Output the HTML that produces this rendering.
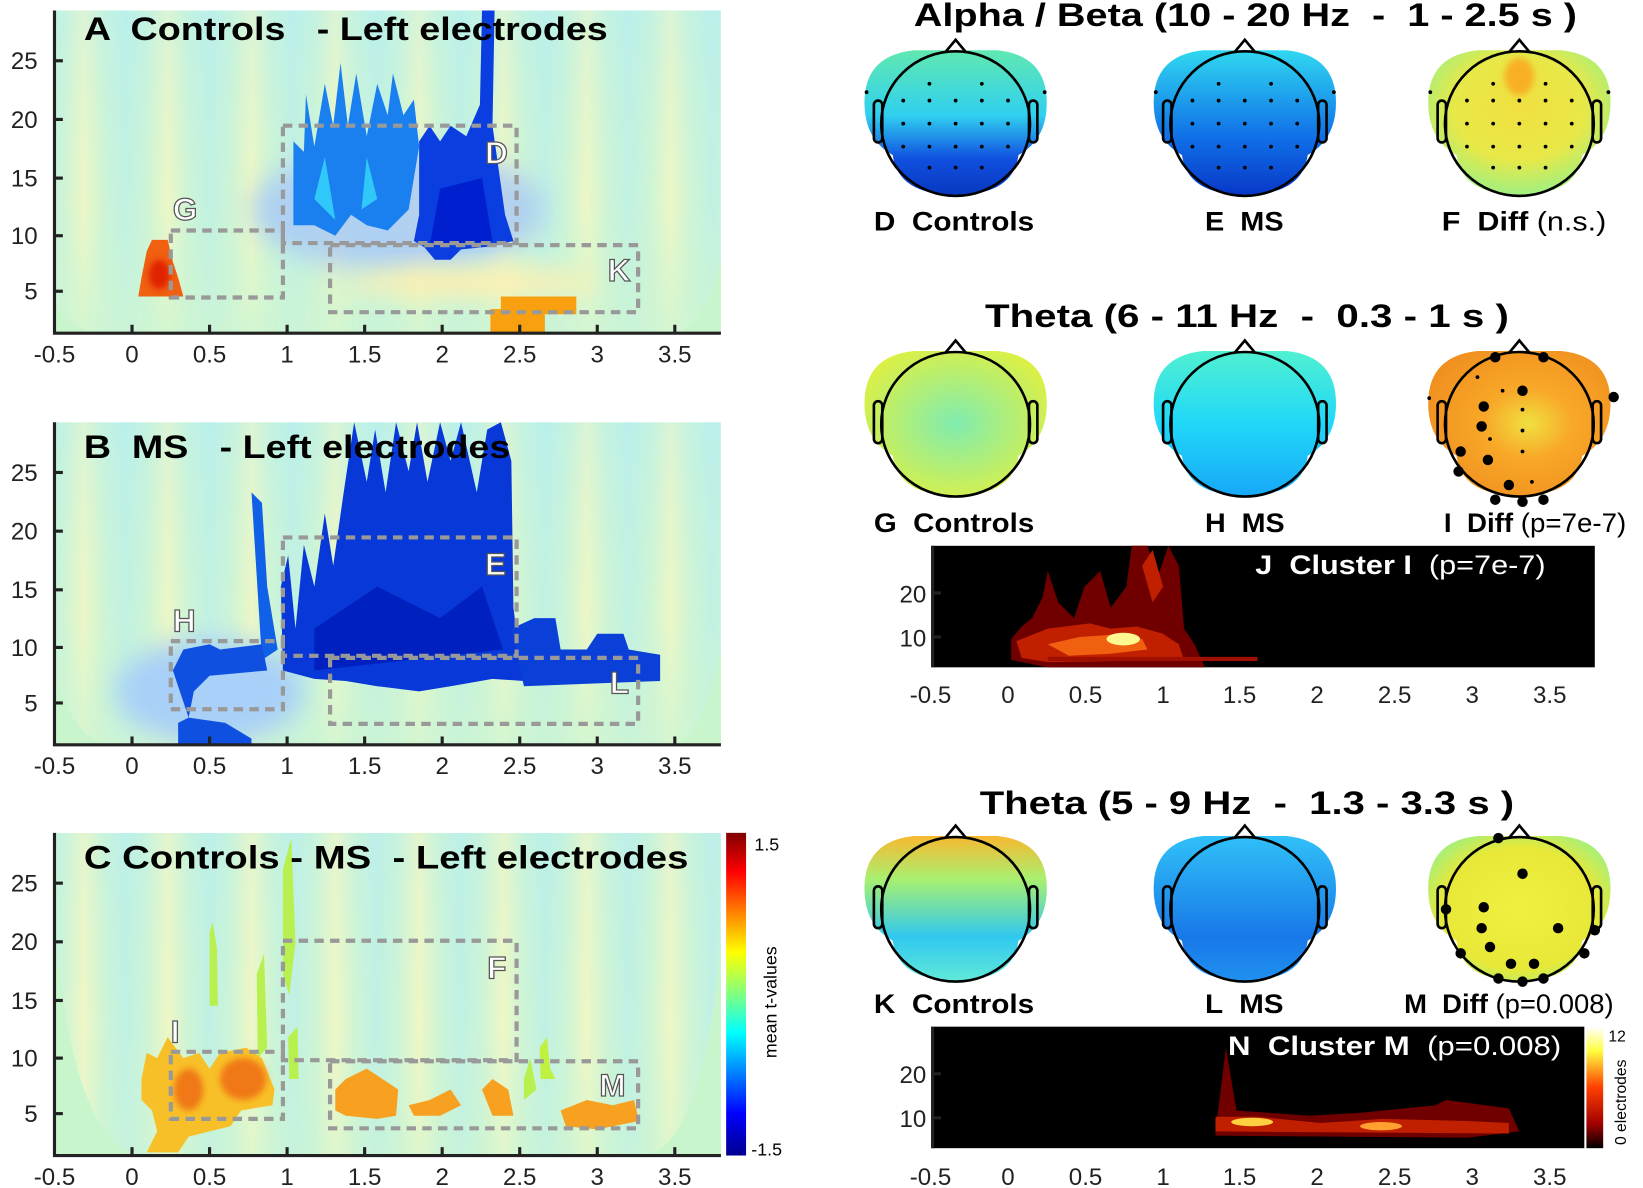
<!DOCTYPE html>
<html><head><meta charset="utf-8"><style>
html,body{margin:0;padding:0;background:#fff}
svg{display:block}
text{font-family:"Liberation Sans",sans-serif;white-space:pre}
.t{font-weight:bold;font-size:31px}
.tk{font-size:23px;fill:#222}
.lab{font-weight:bold;font-size:26px}
.big{font-weight:bold;font-size:30px;fill:#fff;stroke:#555;stroke-width:1.2}
.box{fill:none;stroke:#999;stroke-width:4;stroke-dasharray:9 6}
</style></head><body>
<svg width="1643" height="1188" viewBox="0 0 1568 1134" preserveAspectRatio="none" xmlns="http://www.w3.org/2000/svg">
<defs>
<linearGradient id="stripes" x1="0" x2="40" y1="0" y2="0" gradientUnits="userSpaceOnUse" spreadMethod="reflect">
<stop offset="0" stop-color="#f2f7c4"/><stop offset="0.5" stop-color="#cdf4d6"/><stop offset="1" stop-color="#bff0e6"/></linearGradient>
<linearGradient id="fade" x1="0" x2="0" y1="0" y2="1">
<stop offset="0" stop-color="#b0eef5" stop-opacity="0.35"/><stop offset="0.6" stop-color="#cdf5d3" stop-opacity="0.15"/><stop offset="1" stop-color="#cdf5d3" stop-opacity="0.8"/></linearGradient>
<linearGradient id="jet" x1="0" x2="0" y1="0" y2="1">
<stop offset="0" stop-color="#800000"/><stop offset="0.12" stop-color="#ff0000"/><stop offset="0.37" stop-color="#ffff00"/><stop offset="0.5" stop-color="#80ff80"/><stop offset="0.62" stop-color="#00ffff"/><stop offset="0.87" stop-color="#0000ff"/><stop offset="1" stop-color="#00008f"/></linearGradient>
<linearGradient id="hot" x1="0" x2="0" y1="0" y2="1">
<stop offset="0" stop-color="#ffffff"/><stop offset="0.2" stop-color="#ffff40"/><stop offset="0.5" stop-color="#ff4000"/><stop offset="0.8" stop-color="#a00000"/><stop offset="1" stop-color="#000"/></linearGradient>
<filter id="bl" x="-50%" y="-50%" width="200%" height="200%"><feGaussianBlur stdDeviation="12"/></filter>
<filter id="bl2" x="-50%" y="-50%" width="200%" height="200%"><feGaussianBlur stdDeviation="3"/></filter>
<linearGradient id="gD" x1="0" x2="0" y1="0" y2="1"><stop offset="0" stop-color="#60e8b0"/><stop offset="0.45" stop-color="#30d0f0"/><stop offset="0.75" stop-color="#1050e0"/><stop offset="1" stop-color="#0838c0"/></linearGradient>
<linearGradient id="gE" x1="0" x2="0" y1="0" y2="1"><stop offset="0" stop-color="#30d8f0"/><stop offset="0.6" stop-color="#1070e8"/><stop offset="1" stop-color="#0838c8"/></linearGradient>
<radialGradient id="gF" cx="0.5" cy="0.4" r="0.6"><stop offset="0" stop-color="#f0e040"/><stop offset="0.6" stop-color="#e8e848"/><stop offset="1" stop-color="#a0f080"/></radialGradient>
<radialGradient id="gG" cx="0.5" cy="0.5" r="0.6"><stop offset="0" stop-color="#80ecb0"/><stop offset="1" stop-color="#e0f040"/></radialGradient>
<linearGradient id="gH" x1="0" x2="0" y1="0" y2="1"><stop offset="0" stop-color="#50f0d0"/><stop offset="0.5" stop-color="#20d8f8"/><stop offset="1" stop-color="#18a8f8"/></linearGradient>
<radialGradient id="gI" cx="0.55" cy="0.5" r="0.6"><stop offset="0" stop-color="#f0e040"/><stop offset="0.4" stop-color="#f8a828"/><stop offset="1" stop-color="#f09020"/></radialGradient>
<linearGradient id="gK" x1="0" x2="0" y1="0" y2="1"><stop offset="0" stop-color="#f8b830"/><stop offset="0.3" stop-color="#a8f070"/><stop offset="0.7" stop-color="#30c8f0"/><stop offset="1" stop-color="#60e8d8"/></linearGradient>
<linearGradient id="gL" x1="0" x2="0" y1="0" y2="1"><stop offset="0" stop-color="#30c0f8"/><stop offset="0.7" stop-color="#1878e8"/><stop offset="1" stop-color="#2090f0"/></linearGradient>
<radialGradient id="gM" cx="0.5" cy="0.5" r="0.6"><stop offset="0" stop-color="#f0f040"/><stop offset="0.7" stop-color="#e8e838"/><stop offset="1" stop-color="#a0f080"/></radialGradient>
<clipPath id="cA"><rect x="52" y="10" width="636" height="308"/></clipPath>
<clipPath id="cB"><rect x="52" y="403" width="636" height="308"/></clipPath>
<clipPath id="cC"><rect x="52" y="795" width="636" height="308"/></clipPath>
</defs>

<!-- ============ Panel A ============ -->
<g clip-path="url(#cA)">
<rect x="52" y="10" width="636" height="308" fill="url(#stripes)"/>
<rect x="52" y="10" width="636" height="308" fill="url(#fade)"/>
<ellipse cx="380" cy="200" rx="140" ry="60" fill="#a8c8f8" filter="url(#bl)" opacity="0.8"/>
<ellipse cx="450" cy="270" rx="120" ry="14" fill="#fff0b0" filter="url(#bl)"/>
<path d="M280,215 L280,135 L290,145 L292,90 L300,140 L310,80 L318,120 L325,60 L332,120 L340,70 L350,130 L360,80 L370,110 L375,70 L385,110 L395,95 L400,140 L390,200 L370,220 L350,215 L335,205 L320,225 L300,215 Z" fill="#1a80f0"/>
<path d="M300,190 L310,150 L320,210 Z M350,150 L360,190 L345,200Z" fill="#30c8f8"/>
<path d="M400,135 L410,120 L420,135 L430,120 L445,130 L458,100 L460,10 L472,10 L470,120 L482,205 L490,230 L470,235 L440,238 L430,248 L415,248 L405,236 L395,230 L400,205 Z" fill="#0a3ee0"/>
<path d="M420,180 L460,170 L470,230 L410,235 Z" fill="#0020d0"/>
<path d="M132,283 L135,265 L140,240 L145,229 L160,229 L165,250 L170,265 L175,283 Z" fill="#f06010"/>
<ellipse cx="152" cy="262" rx="10" ry="14" fill="#e02000" filter="url(#bl2)"/>
<path d="M468,295 L478,295 L478,283 L550,283 L550,300 L520,300 L520,318 L468,318 Z" fill="#f8a010"/>
<path d="M52,290 Q70,318 100,318 L52,318 Z M688,250 Q670,318 640,318 L688,318Z" fill="#c8f5cc"/>
</g>
<path d="M52,10 V318 H688" fill="none" stroke="#222" stroke-width="3"/>
<g stroke="#222" stroke-width="3">
<line x1="52" y1="58" x2="60" y2="58"/><line x1="52" y1="114" x2="60" y2="114"/><line x1="52" y1="170" x2="60" y2="170"/><line x1="52" y1="225" x2="60" y2="225"/><line x1="52" y1="278" x2="60" y2="278"/>
<line x1="126" y1="318" x2="126" y2="310"/><line x1="200" y1="318" x2="200" y2="310"/><line x1="274" y1="318" x2="274" y2="310"/><line x1="348" y1="318" x2="348" y2="310"/><line x1="422" y1="318" x2="422" y2="310"/><line x1="496" y1="318" x2="496" y2="310"/><line x1="570" y1="318" x2="570" y2="310"/><line x1="644" y1="318" x2="644" y2="310"/>
</g>
<g class="tk" text-anchor="end"><text x="36" y="66">25</text><text x="36" y="122">20</text><text x="36" y="178">15</text><text x="36" y="233">10</text><text x="36" y="286">5</text></g>
<g class="tk" text-anchor="middle"><text x="52" y="346">-0.5</text><text x="126" y="346">0</text><text x="200" y="346">0.5</text><text x="274" y="346">1</text><text x="348" y="346">1.5</text><text x="422" y="346">2</text><text x="496" y="346">2.5</text><text x="570" y="346">3</text><text x="644" y="346">3.5</text></g>
<rect class="box" x="163" y="220" width="107" height="64"/>
<rect class="box" x="270" y="120" width="223" height="112"/>
<rect class="box" x="315" y="234" width="294" height="64"/>
<text class="t" x="80" y="38" textLength="500" lengthAdjust="spacingAndGlyphs">A  Controls   - Left electrodes</text>
<text class="big" x="165" y="210">G</text><text class="big" x="463" y="156">D</text><text class="big" x="580" y="268">K</text>

<!-- ============ Panel B ============ -->
<g clip-path="url(#cB)">
<rect x="52" y="403" width="636" height="308" fill="url(#stripes)"/>
<rect x="52" y="403" width="636" height="308" fill="url(#fade)"/>
<ellipse cx="200" cy="660" rx="90" ry="50" fill="#a8d0f8" filter="url(#bl)"/>
<path d="M270,640 L268,560 L275,530 L282,600 L290,520 L300,560 L310,490 L318,540 L328,470 L338,403 L350,460 L358,410 L368,470 L378,403 L390,450 L398,403 L408,460 L420,403 L430,440 L440,403 L455,470 L465,410 L478,403 L488,440 L490,580 L495,620 L500,650 L470,648 L430,655 L400,660 L360,655 L330,650 L300,648 Z" fill="#0838d8"/>
<path d="M240,470 L250,480 L255,560 L265,620 L250,630 Z" fill="#1060e8"/>
<path d="M300,600 L360,560 L420,590 L460,560 L480,620 L300,640Z" fill="#0020c0"/>
<path d="M488,600 L510,590 L530,590 L535,620 L560,620 L570,605 L595,605 L600,620 L630,625 L630,650 L500,655 Z" fill="#0a40d8"/>
<path d="M165,640 L175,620 L200,615 L210,620 L250,615 L255,640 L200,645 L185,660 L180,685 L215,690 L240,705 L240,711 L170,711 L170,690 L180,685 Z" fill="#1050e0"/>
<path d="M52,640 Q70,711 110,711 L52,711 Z M688,620 Q670,711 640,711 L688,711Z" fill="#c8f5cc"/>
</g>
<path d="M52,403 V711 H688" fill="none" stroke="#222" stroke-width="3"/>
<g stroke="#222" stroke-width="3">
<line x1="52" y1="451" x2="60" y2="451"/><line x1="52" y1="507" x2="60" y2="507"/><line x1="52" y1="563" x2="60" y2="563"/><line x1="52" y1="618" x2="60" y2="618"/><line x1="52" y1="671" x2="60" y2="671"/>
<line x1="126" y1="711" x2="126" y2="703"/><line x1="200" y1="711" x2="200" y2="703"/><line x1="274" y1="711" x2="274" y2="703"/><line x1="348" y1="711" x2="348" y2="703"/><line x1="422" y1="711" x2="422" y2="703"/><line x1="496" y1="711" x2="496" y2="703"/><line x1="570" y1="711" x2="570" y2="703"/><line x1="644" y1="711" x2="644" y2="703"/>
</g>
<g class="tk" text-anchor="end"><text x="36" y="459">25</text><text x="36" y="515">20</text><text x="36" y="571">15</text><text x="36" y="626">10</text><text x="36" y="679">5</text></g>
<g class="tk" text-anchor="middle"><text x="52" y="739">-0.5</text><text x="126" y="739">0</text><text x="200" y="739">0.5</text><text x="274" y="739">1</text><text x="348" y="739">1.5</text><text x="422" y="739">2</text><text x="496" y="739">2.5</text><text x="570" y="739">3</text><text x="644" y="739">3.5</text></g>
<rect class="box" x="163" y="612" width="107" height="65"/>
<rect class="box" x="270" y="513" width="223" height="113"/>
<rect class="box" x="315" y="628" width="294" height="63"/>
<text class="t" x="80" y="437" textLength="407" lengthAdjust="spacingAndGlyphs">B  MS   - Left electrodes</text>
<text class="big" x="165" y="603">H</text><text class="big" x="463" y="549">E</text><text class="big" x="582" y="662">L</text>

<!-- ============ Panel C ============ -->
<g clip-path="url(#cC)">
<rect x="52" y="795" width="636" height="308" fill="url(#stripes)"/>
<rect x="52" y="795" width="636" height="308" fill="url(#fade)" opacity="0.6"/>
<path d="M52,880 Q70,1103 140,1103 L52,1103 Z M688,900 Q670,1103 610,1103 L688,1103Z" fill="#c8f5cc"/>
<path d="M200,890 L203,880 L207,905 L208,960 L200,960Z M245,930 L252,910 L255,1000 L246,1010Z M270,830 L278,800 L282,900 L276,950 L270,930Z M275,990 L284,980 L285,1030 L276,1030Z M500,1030 L506,1010 L512,1040 L500,1050Z" fill="#b8f050"/>
<path d="M135,1030 L140,1005 L150,1010 L160,990 L175,1010 L190,1005 L200,1020 L210,1005 L235,1000 L250,1010 L262,1040 L260,1055 L230,1060 L220,1075 L200,1080 L180,1085 L170,1100 L140,1100 L150,1080 L145,1060 L135,1050 Z" fill="#f8c028"/>
<ellipse cx="180" cy="1040" rx="14" ry="20" fill="#f07818" filter="url(#bl2)"/>
<ellipse cx="232" cy="1030" rx="22" ry="20" fill="#f07818" filter="url(#bl2)"/>
<path d="M320,1040 L330,1030 L350,1020 L365,1030 L380,1040 L378,1065 L360,1068 L330,1065 L320,1060 Z M390,1055 L410,1050 L430,1040 L440,1055 L420,1065 L395,1065Z M460,1040 L470,1030 L485,1040 L490,1065 L470,1065Z M535,1060 L560,1050 L585,1055 L605,1050 L610,1070 L570,1078 L540,1075Z" fill="#f8a020"/>
<path d="M515,1000 L522,990 L525,1020 L530,1030 L516,1030Z" fill="#c0f040"/>
</g>
<path d="M52,795 V1103 H688" fill="none" stroke="#222" stroke-width="3"/>
<g stroke="#222" stroke-width="3">
<line x1="52" y1="843" x2="60" y2="843"/><line x1="52" y1="899" x2="60" y2="899"/><line x1="52" y1="955" x2="60" y2="955"/><line x1="52" y1="1010" x2="60" y2="1010"/><line x1="52" y1="1063" x2="60" y2="1063"/>
<line x1="126" y1="1103" x2="126" y2="1095"/><line x1="200" y1="1103" x2="200" y2="1095"/><line x1="274" y1="1103" x2="274" y2="1095"/><line x1="348" y1="1103" x2="348" y2="1095"/><line x1="422" y1="1103" x2="422" y2="1095"/><line x1="496" y1="1103" x2="496" y2="1095"/><line x1="570" y1="1103" x2="570" y2="1095"/><line x1="644" y1="1103" x2="644" y2="1095"/>
</g>
<g class="tk" text-anchor="end"><text x="36" y="851">25</text><text x="36" y="907">20</text><text x="36" y="963">15</text><text x="36" y="1018">10</text><text x="36" y="1071">5</text></g>
<g class="tk" text-anchor="middle"><text x="52" y="1131">-0.5</text><text x="126" y="1131">0</text><text x="200" y="1131">0.5</text><text x="274" y="1131">1</text><text x="348" y="1131">1.5</text><text x="422" y="1131">2</text><text x="496" y="1131">2.5</text><text x="570" y="1131">3</text><text x="644" y="1131">3.5</text></g>
<rect class="box" x="163" y="1004" width="107" height="64"/>
<rect class="box" x="270" y="898" width="223" height="114"/>
<rect class="box" x="315" y="1013" width="294" height="64"/>
<text class="t" x="80" y="829" textLength="577" lengthAdjust="spacingAndGlyphs">C Controls - MS  - Left electrodes</text>
<text class="big" x="163" y="995">I</text><text class="big" x="465" y="934">F</text><text class="big" x="572" y="1046">M</text>
<rect x="693" y="795" width="19" height="308" fill="url(#jet)"/>
<text x="720" y="812" style="font-size:17px">1.5</text>
<text x="717" y="1103" style="font-size:17px">-1.5</text>
<text transform="translate(741,1010) rotate(-90)" style="font-size:17px">mean t-values</text>

<!-- ============ Right: topoplots ============ -->
<g class="t"><text x="872" y="25" textLength="633" lengthAdjust="spacingAndGlyphs">Alpha / Beta (10 - 20 Hz  -  1 - 2.5 s )</text>
<text x="940" y="312" textLength="500" lengthAdjust="spacingAndGlyphs">Theta (6 - 11 Hz  -  0.3 - 1 s )</text>
<text x="935" y="777" textLength="510" lengthAdjust="spacingAndGlyphs">Theta (5 - 9 Hz  -  1.3 - 3.3 s )</text></g>

<g id="heads" stroke="#000" stroke-width="2.5">
<g transform="translate(912,118)"><path d="M-87,-20 Q-87,-65 -40,-70 L40,-70 Q87,-65 87,-20 Q87,15 60,30 Q55,68 0,68 Q-55,68 -60,30 Q-87,15 -87,-20Z" fill="url(#gD)" stroke="none"/><ellipse rx="71" ry="69" fill="none"/><path d="M-10,-68 L0,-80 L10,-68" fill="none"/><rect x="-78" y="-22" width="8" height="40" rx="4" fill="none"/><rect x="70" y="-22" width="8" height="40" rx="4" fill="none"/></g>
<g transform="translate(1188,118)"><path d="M-87,-20 Q-87,-65 -40,-70 L40,-70 Q87,-65 87,-20 Q87,15 60,30 Q55,68 0,68 Q-55,68 -60,30 Q-87,15 -87,-20Z" fill="url(#gE)" stroke="none"/><ellipse rx="71" ry="69" fill="none"/><path d="M-10,-68 L0,-80 L10,-68" fill="none"/><rect x="-78" y="-22" width="8" height="40" rx="4" fill="none"/><rect x="70" y="-22" width="8" height="40" rx="4" fill="none"/></g>
<g transform="translate(1450,118)"><path d="M-87,-20 Q-87,-65 -40,-70 L40,-70 Q87,-65 87,-20 Q87,15 60,30 Q55,68 0,68 Q-55,68 -60,30 Q-87,15 -87,-20Z" fill="url(#gF)" stroke="none"/><ellipse cx="0" cy="-45" rx="14" ry="18" fill="#f8b020" stroke="none" filter="url(#bl2)"/><ellipse rx="71" ry="69" fill="none"/><path d="M-10,-68 L0,-80 L10,-68" fill="none"/><rect x="-78" y="-22" width="8" height="40" rx="4" fill="none"/><rect x="70" y="-22" width="8" height="40" rx="4" fill="none"/></g>
<g transform="translate(912,405)"><path d="M-87,-20 Q-87,-65 -40,-70 L40,-70 Q87,-65 87,-20 Q87,15 60,30 Q55,68 0,68 Q-55,68 -60,30 Q-87,15 -87,-20Z" fill="url(#gG)" stroke="none"/><ellipse rx="71" ry="69" fill="none"/><path d="M-10,-68 L0,-80 L10,-68" fill="none"/><rect x="-78" y="-22" width="8" height="40" rx="4" fill="none"/><rect x="70" y="-22" width="8" height="40" rx="4" fill="none"/></g>
<g transform="translate(1188,405)"><path d="M-87,-20 Q-87,-65 -40,-70 L40,-70 Q87,-65 87,-20 Q87,15 60,30 Q55,68 0,68 Q-55,68 -60,30 Q-87,15 -87,-20Z" fill="url(#gH)" stroke="none"/><ellipse rx="71" ry="69" fill="none"/><path d="M-10,-68 L0,-80 L10,-68" fill="none"/><rect x="-78" y="-22" width="8" height="40" rx="4" fill="none"/><rect x="70" y="-22" width="8" height="40" rx="4" fill="none"/></g>
<g transform="translate(1450,405)"><path d="M-87,-20 Q-87,-65 -40,-70 L40,-70 Q87,-65 87,-20 Q87,15 60,30 Q55,68 0,68 Q-55,68 -60,30 Q-87,15 -87,-20Z" fill="url(#gI)" stroke="none"/><ellipse rx="71" ry="69" fill="none"/><path d="M-10,-68 L0,-80 L10,-68" fill="none"/><rect x="-78" y="-22" width="8" height="40" rx="4" fill="none"/><rect x="70" y="-22" width="8" height="40" rx="4" fill="none"/></g>
<g transform="translate(912,868)"><path d="M-87,-20 Q-87,-65 -40,-70 L40,-70 Q87,-65 87,-20 Q87,15 60,30 Q55,68 0,68 Q-55,68 -60,30 Q-87,15 -87,-20Z" fill="url(#gK)" stroke="none"/><ellipse rx="71" ry="69" fill="none"/><path d="M-10,-68 L0,-80 L10,-68" fill="none"/><rect x="-78" y="-22" width="8" height="40" rx="4" fill="none"/><rect x="70" y="-22" width="8" height="40" rx="4" fill="none"/></g>
<g transform="translate(1188,868)"><path d="M-87,-20 Q-87,-65 -40,-70 L40,-70 Q87,-65 87,-20 Q87,15 60,30 Q55,68 0,68 Q-55,68 -60,30 Q-87,15 -87,-20Z" fill="url(#gL)" stroke="none"/><ellipse rx="71" ry="69" fill="none"/><path d="M-10,-68 L0,-80 L10,-68" fill="none"/><rect x="-78" y="-22" width="8" height="40" rx="4" fill="none"/><rect x="70" y="-22" width="8" height="40" rx="4" fill="none"/></g>
<g transform="translate(1450,868)"><path d="M-87,-20 Q-87,-65 -40,-70 L40,-70 Q87,-65 87,-20 Q87,15 60,30 Q55,68 0,68 Q-55,68 -60,30 Q-87,15 -87,-20Z" fill="url(#gM)" stroke="none"/><ellipse rx="71" ry="69" fill="none"/><path d="M-10,-68 L0,-80 L10,-68" fill="none"/><rect x="-78" y="-22" width="8" height="40" rx="4" fill="none"/><rect x="70" y="-22" width="8" height="40" rx="4" fill="none"/></g>
</g>
<g fill="#000">
<g transform="translate(912,118)"><circle cx="-25" cy="-38" r="1.8"/><circle cx="25" cy="-38" r="1.8"/><circle cx="-50" cy="-22" r="1.8"/><circle cx="-25" cy="-22" r="1.8"/><circle cx="0" cy="-22" r="1.8"/><circle cx="25" cy="-22" r="1.8"/><circle cx="50" cy="-22" r="1.8"/><circle cx="-50" cy="0" r="1.8"/><circle cx="-25" cy="0" r="1.8"/><circle cx="0" cy="0" r="1.8"/><circle cx="25" cy="0" r="1.8"/><circle cx="50" cy="0" r="1.8"/><circle cx="-50" cy="22" r="1.8"/><circle cx="-25" cy="22" r="1.8"/><circle cx="0" cy="22" r="1.8"/><circle cx="25" cy="22" r="1.8"/><circle cx="50" cy="22" r="1.8"/><circle cx="-25" cy="42" r="1.8"/><circle cx="0" cy="42" r="1.8"/><circle cx="25" cy="42" r="1.8"/><circle cx="-85" cy="-30" r="1.8"/><circle cx="85" cy="-30" r="1.8"/></g>
<g transform="translate(1188,118)"><circle cx="-25" cy="-38" r="1.8"/><circle cx="25" cy="-38" r="1.8"/><circle cx="-50" cy="-22" r="1.8"/><circle cx="-25" cy="-22" r="1.8"/><circle cx="0" cy="-22" r="1.8"/><circle cx="25" cy="-22" r="1.8"/><circle cx="50" cy="-22" r="1.8"/><circle cx="-50" cy="0" r="1.8"/><circle cx="-25" cy="0" r="1.8"/><circle cx="0" cy="0" r="1.8"/><circle cx="25" cy="0" r="1.8"/><circle cx="50" cy="0" r="1.8"/><circle cx="-50" cy="22" r="1.8"/><circle cx="-25" cy="22" r="1.8"/><circle cx="0" cy="22" r="1.8"/><circle cx="25" cy="22" r="1.8"/><circle cx="50" cy="22" r="1.8"/><circle cx="-25" cy="42" r="1.8"/><circle cx="0" cy="42" r="1.8"/><circle cx="25" cy="42" r="1.8"/><circle cx="-85" cy="-30" r="1.8"/><circle cx="85" cy="-30" r="1.8"/></g>
<g transform="translate(1450,118)"><circle cx="-25" cy="-38" r="1.8"/><circle cx="25" cy="-38" r="1.8"/><circle cx="-50" cy="-22" r="1.8"/><circle cx="-25" cy="-22" r="1.8"/><circle cx="0" cy="-22" r="1.8"/><circle cx="25" cy="-22" r="1.8"/><circle cx="50" cy="-22" r="1.8"/><circle cx="-50" cy="0" r="1.8"/><circle cx="-25" cy="0" r="1.8"/><circle cx="0" cy="0" r="1.8"/><circle cx="25" cy="0" r="1.8"/><circle cx="50" cy="0" r="1.8"/><circle cx="-50" cy="22" r="1.8"/><circle cx="-25" cy="22" r="1.8"/><circle cx="0" cy="22" r="1.8"/><circle cx="25" cy="22" r="1.8"/><circle cx="50" cy="22" r="1.8"/><circle cx="-25" cy="42" r="1.8"/><circle cx="0" cy="42" r="1.8"/><circle cx="25" cy="42" r="1.8"/><circle cx="-85" cy="-30" r="1.8"/><circle cx="85" cy="-30" r="1.8"/></g>
<g transform="translate(1450,405)"><circle cx="-23" cy="-64" r="5"/><circle cx="23" cy="-64" r="5"/><circle cx="3" cy="-32" r="5"/><circle cx="-34" cy="-17" r="5"/><circle cx="-36" cy="2" r="5"/><circle cx="-56" cy="26" r="5"/><circle cx="-30" cy="34" r="5"/><circle cx="-58" cy="45" r="5"/><circle cx="-10" cy="58" r="5"/><circle cx="-23" cy="72" r="5"/><circle cx="3" cy="74" r="5"/><circle cx="23" cy="72" r="5"/><circle cx="90" cy="-26" r="5"/><circle cx="-16" cy="-32" r="1.8"/><circle cx="3" cy="-14" r="1.8"/><circle cx="3" cy="6" r="1.8"/><circle cx="3" cy="26" r="1.8"/><circle cx="-28" cy="14" r="1.8"/><circle cx="-86" cy="-25" r="1.8"/><circle cx="-40" cy="-45" r="1.8"/><circle cx="12" cy="55" r="1.8"/></g>
<g transform="translate(1450,868)"><circle cx="-20" cy="-68" r="5"/><circle cx="3" cy="-34" r="5"/><circle cx="-34" cy="-2" r="5"/><circle cx="-70" cy="0" r="5"/><circle cx="-36" cy="18" r="5"/><circle cx="37" cy="18" r="5"/><circle cx="-28" cy="36" r="5"/><circle cx="-8" cy="52" r="5"/><circle cx="14" cy="52" r="5"/><circle cx="62" cy="42" r="5"/><circle cx="72" cy="20" r="5"/><circle cx="-20" cy="66" r="5"/><circle cx="3" cy="69" r="5"/><circle cx="23" cy="66" r="5"/><circle cx="-56" cy="42" r="5"/></g>
</g>
<g class="lab">
<text x="834" y="220" textLength="153" lengthAdjust="spacingAndGlyphs">D  Controls</text>
<text x="1150" y="220" textLength="75" lengthAdjust="spacingAndGlyphs">E  MS</text>
<text x="1376" y="220" textLength="157" lengthAdjust="spacingAndGlyphs">F  Diff <tspan style="font-weight:normal">(n.s.)</tspan></text>
<text x="834" y="508" textLength="153" lengthAdjust="spacingAndGlyphs">G  Controls</text>
<text x="1150" y="508" textLength="76" lengthAdjust="spacingAndGlyphs">H  MS</text>
<text x="1378" y="508" textLength="174" lengthAdjust="spacingAndGlyphs">I  Diff <tspan style="font-weight:normal">(p=7e-7)</tspan></text>
<text x="834" y="967" textLength="153" lengthAdjust="spacingAndGlyphs">K  Controls</text>
<text x="1150" y="967" textLength="75" lengthAdjust="spacingAndGlyphs">L  MS</text>
<text x="1340" y="967" textLength="200" lengthAdjust="spacingAndGlyphs">M  Diff <tspan style="font-weight:normal">(p=0.008)</tspan></text></g>

<!-- J cluster -->
<rect x="890" y="521" width="632" height="116" fill="#000"/>
<g>
<path d="M965,610 L975,598 L985,590 L995,570 L1000,545 L1010,575 L1025,590 L1035,560 L1050,545 L1060,580 L1075,560 L1080,521 L1095,521 L1105,550 L1115,521 L1125,540 L1130,600 L1140,615 L1150,637 L1000,637 L965,630Z" fill="#700000"/>
<path d="M970,612 L1000,600 L1040,595 L1060,600 L1085,598 L1110,605 L1125,615 L1130,630 L1000,632 L975,628Z" fill="#c02000"/>
<path d="M1090,540 L1100,525 L1110,560 L1100,575Z" fill="#c02000"/>
<path d="M1000,615 L1030,608 L1060,606 L1090,610 L1095,620 L1060,624 L1020,626Z" fill="#f06010"/>
<ellipse cx="1072" cy="610" rx="16" ry="6" fill="#fff890"/>
<rect x="1000" y="627" width="200" height="4" fill="#a01000"/>
</g>
<text x="1198" y="548" class="lab" fill="#fff" textLength="277" lengthAdjust="spacingAndGlyphs">J  Cluster I  <tspan style="font-weight:normal">(p=7e-7)</tspan></text>
<g stroke="#222" stroke-width="3"><line x1="890" y1="521" x2="890" y2="637"/><line x1="890" y1="566" x2="898" y2="566"/><line x1="890" y1="608" x2="898" y2="608"/></g>
<g class="tk" text-anchor="end"><text x="884" y="575">20</text><text x="884" y="617">10</text></g>
<g class="tk" text-anchor="middle"><text x="888" y="671">-0.5</text><text x="962" y="671">0</text><text x="1036" y="671">0.5</text><text x="1110" y="671">1</text><text x="1183" y="671">1.5</text><text x="1257" y="671">2</text><text x="1331" y="671">2.5</text><text x="1405" y="671">3</text><text x="1479" y="671">3.5</text></g>

<!-- N cluster -->
<rect x="890" y="980" width="622" height="116" fill="#000"/>
<path d="M1160,1080 L1165,1040 L1170,1000 L1180,1060 L1250,1065 L1300,1062 L1370,1055 L1380,1050 L1440,1058 L1450,1080 L1400,1086 L1160,1084Z" fill="#700000"/>
<path d="M1160,1066 L1200,1066 L1260,1072 L1320,1068 L1400,1070 L1440,1072 L1440,1082 L1160,1080Z" fill="#c02000"/>
<ellipse cx="1195" cy="1071" rx="20" ry="4" fill="#ffd040"/>
<ellipse cx="1318" cy="1075" rx="20" ry="4" fill="#ffa030"/>
<text x="1172" y="1007" class="lab" fill="#fff" textLength="318" lengthAdjust="spacingAndGlyphs">N  Cluster M  <tspan style="font-weight:normal">(p=0.008)</tspan></text>
<rect x="1514" y="980" width="16" height="116" fill="url(#hot)"/>
<text x="1535" y="994" style="font-size:15px">12</text>
<text transform="translate(1552,1093) rotate(-90)" style="font-size:15px">0 electrodes</text>
<g stroke="#222" stroke-width="3"><line x1="890" y1="980" x2="890" y2="1096"/><line x1="890" y1="1025" x2="898" y2="1025"/><line x1="890" y1="1067" x2="898" y2="1067"/></g>
<g class="tk" text-anchor="end"><text x="884" y="1034">20</text><text x="884" y="1076">10</text></g>
<g class="tk" text-anchor="middle"><text x="888" y="1131">-0.5</text><text x="962" y="1131">0</text><text x="1036" y="1131">0.5</text><text x="1110" y="1131">1</text><text x="1183" y="1131">1.5</text><text x="1257" y="1131">2</text><text x="1331" y="1131">2.5</text><text x="1405" y="1131">3</text><text x="1479" y="1131">3.5</text></g>
</svg>
</body></html>
